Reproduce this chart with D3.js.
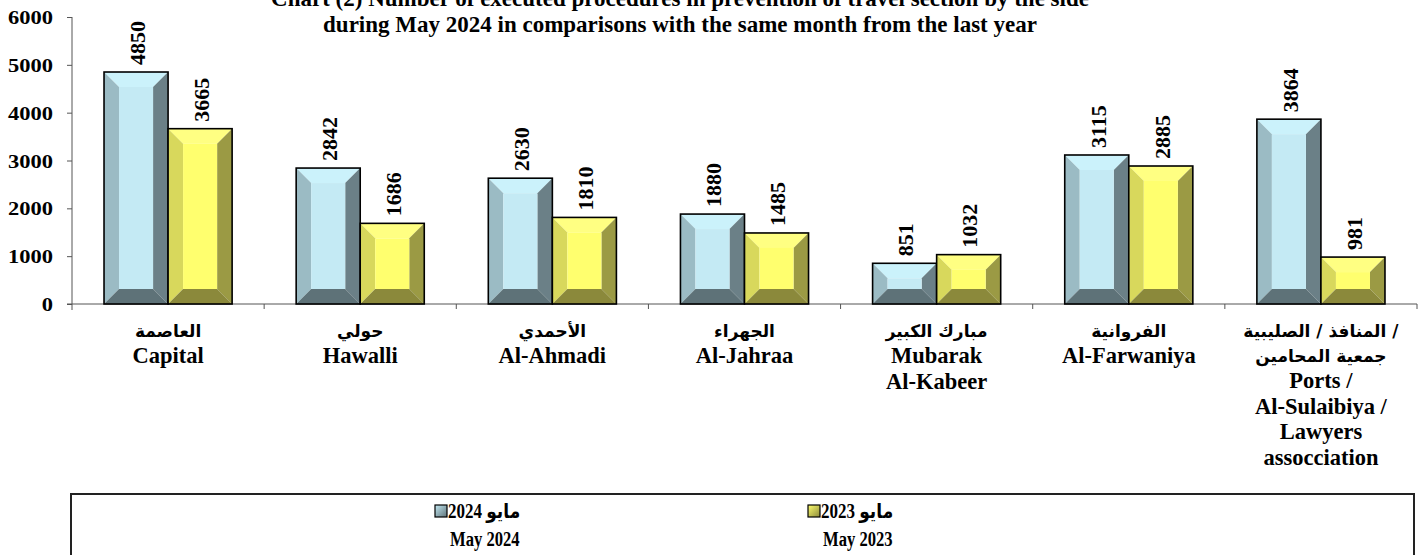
<!DOCTYPE html>
<html><head><meta charset="utf-8">
<script src="https://cdn.jsdelivr.net/npm/d3@7"></script>
<style>
body{margin:0;background:#fff}
svg{display:block}
text{font-family:"Liberation Serif","DejaVu Sans",serif;font-weight:bold;fill:#000}
.ar{font-family:"DejaVu Sans",sans-serif}
</style>
</head><body><svg id="c" width="1427" height="555"></svg>
<script>
// ---------- data ----------
const categoriesAr = [
  ["العاصمة"],
  ["حولي"],
  ["الأحمدي"],
  ["الجهراء"],
  ["مبارك الكبير"],
  ["الفروانية"],
  ["المنافذ / الصليبية /", "جمعية المحامين"]
];
const categoriesEn = [
  ["Capital"],
  ["Hawalli"],
  ["Al-Ahmadi"],
  ["Al-Jahraa"],
  ["Mubarak", "Al-Kabeer"],
  ["Al-Farwaniya"],
  ["Ports /", "Al-Sulaibiya /", "Lawyers", "assocciation"]
];
const may2024 = [4850, 2842, 2630, 1880, 851, 3115, 3864];
const may2023 = [3665, 1686, 1810, 1485, 1032, 2885, 981];
const yTicks = [0, 1000, 2000, 3000, 4000, 5000, 6000];
const seriesKeys = ["may2024", "may2023"];
const seriesAr = ["مايو 2024", "مايو 2023"];
const seriesEn = ["May 2024", "May 2023"];
const titleLines = [
  "Chart (2) Number of executed procedures in prevention of travel section by the side",
  "during May 2024 in comparisons with the same month from the last year"
];

// ---------- styles ----------
const palettes = {
  may2024: {top:"#cbf2fb", face:"#c4eaf4", left:"#9bbbc4", right:"#6b8087", bottom:"#5e7278"},
  may2023: {top:"#ffff82", face:"#ffff6e", left:"#d8d85c", right:"#9b9a44", bottom:"#8b893b"}
};

const svg = d3.select("#c");
const left = 72, right = 1417, y0px = 304, y6px = 17;

const x = d3.scaleBand().domain(d3.range(categoriesEn.length))
  .range([left, right]).paddingInner(1/3).paddingOuter(1/6);
const xs = d3.scaleBand().domain(seriesKeys).range([0, x.bandwidth()]);
const y = d3.scaleLinear().domain([0, 6000]).range([y0px, y6px]);

// title
svg.append("g").selectAll("text").data(titleLines).join("text")
  .attr("x", 680).attr("y", (d, i) => 6 + i * 26)
  .attr("text-anchor", "middle").style("font-size", "23px").text(d => d);

// y axis
const yAxis = svg.append("g").attr("transform", `translate(${left},0)`)
  .call(d3.axisLeft(y).tickValues(yTicks).tickSize(5).tickFormat(d3.format("d")));
yAxis.select(".domain").attr("stroke", "#555").attr("d", `M0,${y6px}V${y0px + 6}`);
yAxis.selectAll(".tick line").attr("stroke", "#555");
yAxis.selectAll(".tick text").each(function(d) {
  const t = d3.select(this);
  t.attr("x", null).attr("dy", null).attr("y", null)
   .attr("transform", "translate(-19,0) scale(1,0.82)")
   .attr("dy", "0.36em")
   .style("font-size", "22.5px").style("font-family", null);
});
yAxis.attr("font-family", null).attr("font-size", null);

// x axis line + boundary ticks
const boundaries = d3.range(categoriesEn.length + 1).map(i => left + i * x.step());
svg.append("line").attr("x1", left - 5).attr("x2", right).attr("y1", y0px).attr("y2", y0px)
  .attr("stroke", "#555").attr("stroke-width", 1);
svg.append("g").selectAll("line").data(boundaries.slice(1)).join("line")
  .attr("x1", d => d).attr("x2", d => d).attr("y1", y0px).attr("y2", y0px + 5)
  .attr("stroke", "#555");

// bevel bar
function bevelBar(g, bx, by, w, h, pal) {
  const b = Math.min(15, h / 2, w / 2);
  const x2 = bx + w, y2 = by + h;
  const poly = (pts, fill) => g.append("polygon").attr("points", pts.map(p => p.join(",")).join(" ")).attr("fill", fill);
  poly([[bx, by], [x2, by], [x2 - b, by + b], [bx + b, by + b]], pal.top);
  poly([[bx, by], [bx + b, by + b], [bx + b, y2 - b], [bx, y2]], pal.left);
  poly([[x2, by], [x2, y2], [x2 - b, y2 - b], [x2 - b, by + b]], pal.right);
  poly([[bx, y2], [bx + b, y2 - b], [x2 - b, y2 - b], [x2, y2]], pal.bottom);
  g.append("rect").attr("x", bx + b).attr("y", by + b).attr("width", Math.max(0, w - 2 * b))
    .attr("height", Math.max(0, h - 2 * b)).attr("fill", pal.face);
  g.append("rect").attr("x", bx).attr("y", by).attr("width", w).attr("height", h)
    .attr("fill", "none").attr("stroke", "#000").attr("stroke-width", 1.6);
}

const seriesData = {may2024, may2023};
const bars = svg.append("g");
categoriesEn.forEach((c, i) => {
  seriesKeys.forEach(k => {
    const v = seriesData[k][i];
    const bx = x(i) + xs(k), by = y(v), w = xs.bandwidth(), h = y(0) - y(v);
    bevelBar(bars.append("g"), bx, by, w, h, palettes[k]);
    bars.append("text")
      .attr("transform", `translate(${bx + w / 2},${by - 7}) rotate(-90)`)
      .attr("dy", "0.4em").attr("text-anchor", "start")
      .style("font-size", "22px").text(v);
  });
});

// category labels
const lab = svg.append("g");
categoriesEn.forEach((en, i) => {
  const cx = x(i) + x.bandwidth() / 2;
  const ar = categoriesAr[i];
  ar.forEach((t, j) => {
    lab.append("text").attr("class", "ar").attr("x", cx).attr("y", 337 + j * 25)
      .attr("text-anchor", "middle").style("font-size", "17px").text(t);
  });
  const startEn = 337 + (ar.length - 1) * 25 + 26;
  en.forEach((t, j) => {
    lab.append("text").attr("x", cx).attr("y", startEn + j * 25.5)
      .attr("text-anchor", "middle").style("font-size", "22.5px").text(t);
  });
});

// legend
svg.append("rect").attr("x", 71).attr("y", 494).attr("width", 1343).attr("height", 100)
  .attr("fill", "none").attr("stroke", "#222").attr("stroke-width", 2);
const legX = [435, 808];
const defs = svg.append("defs");
seriesKeys.forEach((k, i) => {
  const pal = palettes[k];
  const gid = "lg" + i;
  const grad = defs.append("linearGradient").attr("id", gid).attr("x1", 0).attr("y1", 0).attr("x2", 1).attr("y2", 1);
  grad.append("stop").attr("offset", "0").attr("stop-color", pal.face);
  grad.append("stop").attr("offset", "1").attr("stop-color", pal.bottom);
  const g = svg.append("g");
  g.append("rect").attr("x", legX[i]).attr("y", 505).attr("width", 12).attr("height", 12)
    .attr("fill", `url(#${gid})`).attr("stroke", "#000").attr("stroke-width", 1.2);
  g.append("text").attr("transform", `translate(${legX[i] + 13},518) scale(0.85,1)`)
    .style("font-size", "20px").text(seriesAr[i]);
  g.append("text").attr("transform", `translate(${legX[i] + 15},546) scale(0.83,1)`)
    .style("font-size", "20px").text(seriesEn[i]);
});
</script>
</body></html>
